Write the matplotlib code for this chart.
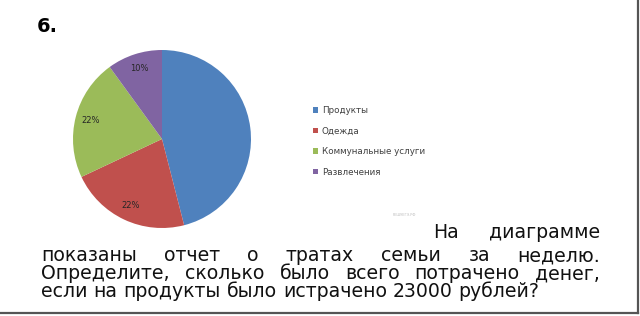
import matplotlib
matplotlib.use('Agg')
import matplotlib.pyplot as plt
from matplotlib.lines import Line2D
import numpy as np

categories = ['Продукты', 'Одежда', 'Коммунальные услуги', 'Развлечения']
shares = [46, 22, 22, 10]
colors = ['#4F81BD', '#C0504D', '#9BBB59', '#8064A2']
pct_labels = ['', '22%', '22%', '10%']

task_no = '6.'
lines = [
    'На диаграмме',
    'показаны отчет о тратах семьи за неделю.',
    'Определите, сколько было всего потрачено денег,',
    'если на продукты было истрачено 23000 рублей?',
]

W, H = 640, 316
fig = plt.figure(figsize=(W / 100, H / 100), dpi=100)
fig.patch.set_facecolor('white')

def fx(x): return x / W
def fy(y): return 1 - y / H

# pie
cx, cy, r = 162, 139, 89
ax = fig.add_axes([fx(cx - r), fy(cy + r), 2 * r / W, 2 * r / H])
wedges, _ = ax.pie(shares, colors=colors, startangle=90, counterclock=False,
                   wedgeprops=dict(linewidth=0))
ax.set_xlim(-1, 1)
ax.set_ylim(-1, 1)
ax.set_aspect('equal')
ang = 90
for w, s, lab in zip(wedges, shares, pct_labels):
    mid = np.deg2rad(ang - s * 3.6 / 2)
    ang -= s * 3.6
    if lab:
        ax.text(0.83 * np.cos(mid), 0.83 * np.sin(mid), lab, ha='center', va='center',
                fontsize=6, color='#262626')

leg = fig.legend(wedges, categories, loc='upper left',
                 bbox_to_anchor=(fx(306), fy(99)), frameon=False, fontsize=6.3,
                 handlelength=0.6, handleheight=0.6, handletextpad=0.4,
                 labelspacing=1.32, labelcolor='#404040', borderpad=0.3)

fig.text(fx(37), fy(32), task_no, fontsize=14, fontweight='bold', color='black')

# watermark
fig.text(fx(393), fy(216), 'РЕШУЕГЭ.РФ', fontsize=2.5, color='#bbbbbb')

# justified text
fs = 13.6
renderer = fig.canvas.get_renderer()
specs = [(433, 600, 238, True), (41, 600, 261, True), (41, 600, 279, True), (41, 600, 297, False)]
sp_probe = fig.text(0, 0, 'a a', fontsize=fs)
a_probe = fig.text(0, 0, 'a', fontsize=fs)
space_w = sp_probe.get_window_extent(renderer).width - 2 * a_probe.get_window_extent(renderer).width
sp_probe.remove()
a_probe.remove()
for line, (x0, x1, yb, just) in zip(lines, specs):
    words = line.split(' ')
    texts = [fig.text(0, fy(yb), w_, fontsize=fs, color='#111111', va='baseline') for w_ in words]
    widths = [t.get_window_extent(renderer).width for t in texts]
    if just and len(words) > 1:
        gap = (x1 - x0 - sum(widths)) / (len(words) - 1)
    else:
        gap = space_w
    x = x0
    for t, wd in zip(texts, widths):
        t.set_x(fx(x))
        x += wd + gap

# page border
fig.add_artist(Line2D([fx(637.5), fx(637.5)], [fy(0), fy(313)], color='#555555', lw=1.6))
fig.add_artist(Line2D([0, fx(638)], [fy(313), fy(313)], color='#555555', lw=1.6))

fig.savefig('out.png', dpi=100, facecolor='white')
